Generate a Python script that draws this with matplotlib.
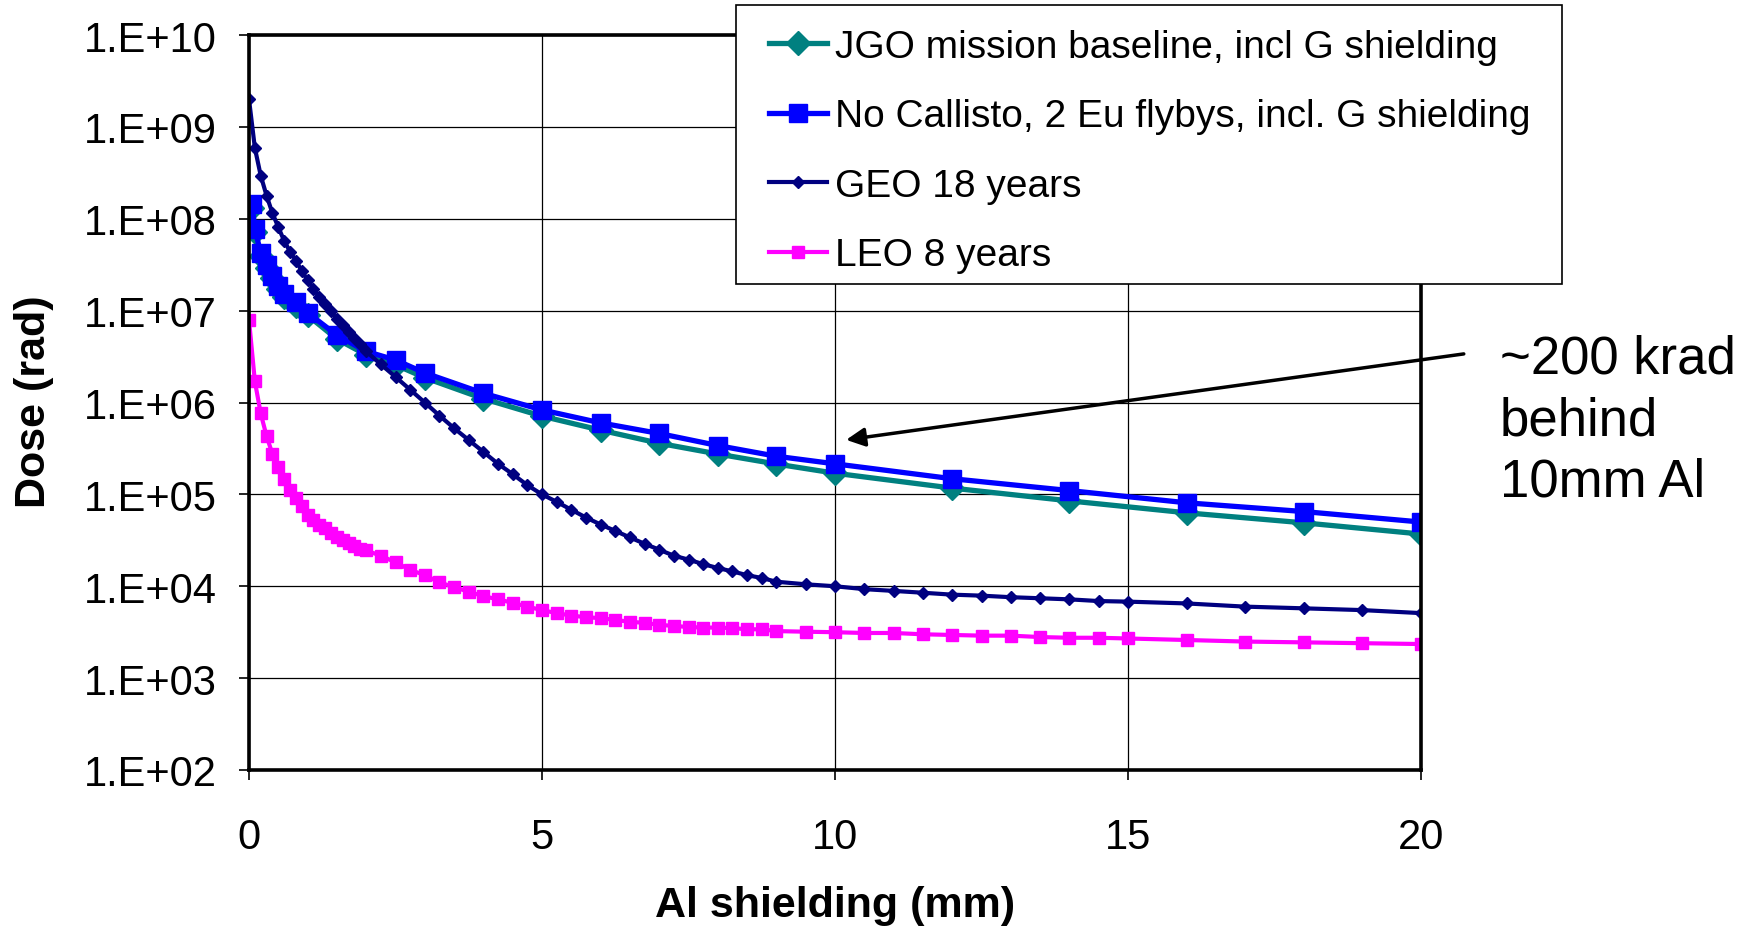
import numpy as np
import matplotlib
matplotlib.use("Agg")
import matplotlib.pyplot as plt
from matplotlib.patches import Rectangle
from matplotlib.ticker import FixedLocator, FuncFormatter, NullLocator

plt.rcParams['font.family'] = ['Liberation Sans', 'DejaVu Sans']

# shielding depths (mm) for the two Jupiter mission curves
mission_mm = [0.05, 0.1, 0.2, 0.3, 0.4, 0.5, 0.6, 0.8, 1.0, 1.5, 2.0, 2.5, 3.0,
              4.0, 5.0, 6.0, 7.0, 8.0, 9.0, 10, 12, 14, 16, 18, 20]
jgo_dose = [1.32e8, 7.2e7, 3.9e7, 2.9e7, 2.24e7, 1.74e7, 1.41e7, 1.12e7, 8.9e6,
            4.9e6, 3.3e6, 2.57e6, 1.86e6, 1.1e6, 7.1e5, 5.0e5, 3.6e5, 2.75e5,
            2.14e5, 1.7e5, 1.17e5, 8.5e4, 6.3e4, 4.9e4, 3.7e4]
nocal_dose = [1.45e8, 7.8e7, 4.2e7, 3.1e7, 2.4e7, 1.86e7, 1.5e7, 1.23e7, 9.5e6,
              5.4e6, 3.6e6, 2.9e6, 2.1e6, 1.26e6, 8.3e5, 6.0e5, 4.6e5, 3.4e5,
              2.6e5, 2.15e5, 1.48e5, 1.1e5, 8.1e4, 6.5e4, 5.0e4]

# shielding depths (mm) for the Earth orbit reference curves
orbit_mm = [0.0, 0.1, 0.2, 0.3, 0.4, 0.5, 0.6, 0.7, 0.8, 0.9, 1.0, 1.1, 1.2, 1.3,
            1.4, 1.5, 1.6, 1.7, 1.8, 1.9, 2.0, 2.25, 2.5, 2.75, 3.0, 3.25, 3.5,
            3.75, 4.0, 4.25, 4.5, 4.75, 5.0, 5.25, 5.5, 5.75, 6.0, 6.25, 6.5,
            6.75, 7.0, 7.25, 7.5, 7.75, 8.0, 8.25, 8.5, 8.75, 9.0, 9.5, 10.0,
            10.5, 11.0, 11.5, 12.0, 12.5, 13.0, 13.5, 14.0, 14.5, 15.0, 16, 17,
            18, 19, 20]
geo_dose = [2.0e9, 5.9e8, 2.95e8, 1.78e8, 1.15e8, 8.1e7, 5.75e7, 4.4e7, 3.5e7,
            2.7e7, 2.15e7, 1.74e7, 1.41e7, 1.17e7, 9.8e6, 8.1e6, 6.9e6, 5.9e6,
            5.0e6, 4.3e6, 3.6e6, 2.6e6, 1.9e6, 1.38e6, 1.0e6, 7.2e5, 5.25e5,
            3.9e5, 2.9e5, 2.15e5, 1.66e5, 1.26e5, 1.0e5, 8.3e4, 6.8e4, 5.6e4,
            4.7e4, 4.0e4, 3.4e4, 2.9e4, 2.5e4, 2.15e4, 1.95e4, 1.74e4, 1.58e4,
            1.45e4, 1.32e4, 1.23e4, 1.12e4, 1.05e4, 1.0e4, 9.3e3, 8.9e3, 8.5e3,
            8.1e3, 7.9e3, 7.6e3, 7.4e3, 7.2e3, 6.9e3, 6.8e3, 6.5e3, 6.0e3,
            5.75e3, 5.5e3, 5.1e3]
leo_dose = [7.9e6, 1.7e6, 7.6e5, 4.3e5, 2.75e5, 2.0e5, 1.48e5, 1.12e5, 9.1e4,
            7.4e4, 6.0e4, 5.25e4, 4.7e4, 4.3e4, 3.8e4, 3.4e4, 3.16e4, 2.95e4,
            2.75e4, 2.57e4, 2.45e4, 2.15e4, 1.82e4, 1.51e4, 1.32e4, 1.1e4,
            9.8e3, 8.7e3, 7.8e3, 7.2e3, 6.6e3, 6.0e3, 5.5e3, 5.1e3, 4.8e3,
            4.6e3, 4.5e3, 4.3e3, 4.1e3, 4.0e3, 3.8e3, 3.7e3, 3.6e3, 3.55e3,
            3.55e3, 3.5e3, 3.4e3, 3.4e3, 3.25e3, 3.2e3, 3.16e3, 3.1e3, 3.1e3,
            3.0e3, 2.95e3, 2.9e3, 2.9e3, 2.8e3, 2.75e3, 2.75e3, 2.7e3, 2.6e3,
            2.5e3, 2.45e3, 2.4e3, 2.35e3]

series_labels = ["JGO mission baseline, incl G shielding",
                 "No Callisto, 2 Eu flybys, incl. G shielding",
                 "GEO 18 years",
                 "LEO 8 years"]
x_ticks = [0, 5, 10, 15, 20]
y_ticks = [1e2, 1e3, 1e4, 1e5, 1e6, 1e7, 1e8, 1e9, 1e10]

W, H = 1752, 929
fig = plt.figure(figsize=(W / 100, H / 100), dpi=100, facecolor='white')
ax = fig.add_axes([249 / W, 1 - 771 / H, 1172 / W, 735 / H])

h1, = ax.plot(mission_mm, jgo_dose, color='#008080', lw=3.8, marker='D',
              markersize=12.5, markeredgecolor='#008080')
h2, = ax.plot(mission_mm, nocal_dose, color='#0000FF', lw=3.8, marker='s',
              markersize=13, markeredgecolor='#0000FF')
h3, = ax.plot(orbit_mm, geo_dose, color='#000080', lw=3.0, marker='D',
              markersize=6.5, markeredgecolor='#000080')
h4, = ax.plot(orbit_mm, leo_dose, color='#FF00FF', lw=3.0, marker='s',
              markersize=8.5, markeredgecolor='#FF00FF')

ax.set_yscale('log')
ax.set_xlim(0, 20)
ax.set_ylim(1e2, 1e10)
ax.xaxis.set_major_locator(FixedLocator(x_ticks))
ax.yaxis.set_major_locator(FixedLocator(y_ticks))
ax.yaxis.set_minor_locator(NullLocator())
ax.yaxis.set_major_formatter(FuncFormatter(
    lambda v, p: "1.E+%02d" % int(round(np.log10(v)))))

ax.set_axisbelow(True)
ax.grid(True, color='black', lw=0.9)
for s in ax.spines.values():
    s.set_linewidth(2.6)
    s.set_color('black')
ax.tick_params(axis='both', direction='out', length=7, width=1.2,
               labelsize=30, colors='black')
ax.tick_params(axis='x', pad=27)
ax.tick_params(axis='y', pad=16)

ax.set_xlabel('Al shielding (mm)', fontsize=31, fontweight='bold')
ax.xaxis.set_label_coords(0.5, -0.184)
ax.xaxis.label.set_va('center')
ax.set_ylabel('Dose (rad)', fontsize=31, fontweight='bold')
ax.yaxis.set_label_coords(-0.1835, 0.502)
ax.yaxis.label.set_va('center')

# arrow pointing at the 10 mm value
ax.annotate('', xy=(10.19, 3.92e5), xytext=(20.73, 3.38e6),
            arrowprops=dict(arrowstyle='-|>', lw=2.5, color='black',
                            mutation_scale=28, shrinkA=0, shrinkB=0),
            annotation_clip=False)
fig.text(1500 / W, 1 - 421 / H, '~200 krad\nbehind\n10mm Al', fontsize=38,
         ha='left', va='center', linespacing=1.3)

# legend box sits partly outside the plot area
fig.patches.append(Rectangle((736 / W, 1 - 285 / H), 826 / W, 279 / H,
                             transform=fig.transFigure, facecolor='white',
                             edgecolor='black', lw=1.2, zorder=2))
fig.legend([h1, h2, h3, h4], series_labels, loc='upper left',
           bbox_to_anchor=(769 / W, 1 - 30 / H), frameon=False, fontsize=28,
           handlelength=1.5, handletextpad=0.2, labelspacing=0.86,
           borderpad=0, borderaxespad=0)

fig.savefig('out.png', dpi=100)
